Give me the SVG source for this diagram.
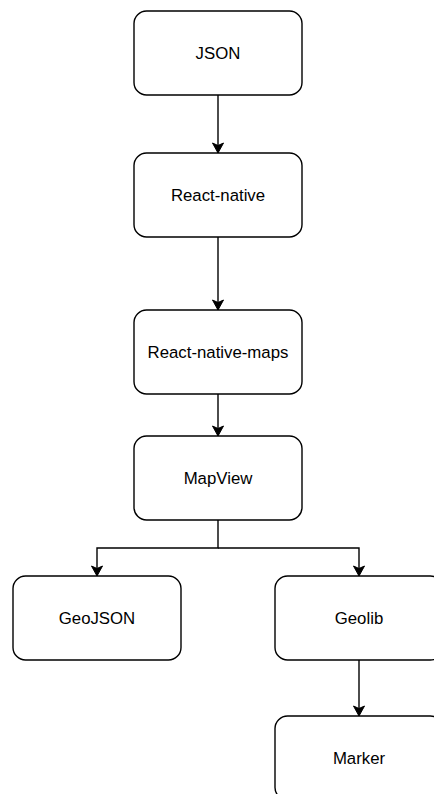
<svg xmlns="http://www.w3.org/2000/svg" width="434" height="794" viewBox="0 0 434 794">
<style>
.box{fill:#fff;stroke:#000;stroke-width:1.4}
.lbl{font-family:"Liberation Sans",Arial,sans-serif;font-size:16.8px;fill:#000;text-anchor:middle}
.conn{fill:none;stroke:#000;stroke-width:1.4}
</style>
<defs>
<marker id="arr" markerUnits="userSpaceOnUse" markerWidth="11" markerHeight="12" refX="10" refY="5.5" orient="auto" overflow="visible">
<path d="M0,0 L10,5.5 L0,11 L2.5,5.5 Z" fill="#000" stroke="#000" stroke-width="1"/>
</marker>
</defs>
<rect width="434" height="794" fill="#fff"/>
<g id="connectors">
<path class="conn" d="M218,95 V153" marker-end="url(#arr)"/>
<path class="conn" d="M218,237 V310" marker-end="url(#arr)"/>
<path class="conn" d="M218,394 V436" marker-end="url(#arr)"/>
<path class="conn" d="M218,520 V548 H97 V576" marker-end="url(#arr)"/>
<path class="conn" d="M218,548 H359 V576" marker-end="url(#arr)"/>
<path class="conn" d="M359,660 V716" marker-end="url(#arr)"/>
</g>
<g id="json"><rect class="box" x="134" y="11" width="168" height="84" rx="12.6"/><text class="lbl" x="218" y="59">JSON</text></g>
<g id="react-native"><rect class="box" x="134" y="153" width="168" height="84" rx="12.6"/><text class="lbl" x="218" y="201">React-native</text></g>
<g id="react-native-maps"><rect class="box" x="134" y="310" width="168" height="84" rx="12.6"/><text class="lbl" x="218" y="358">React-native-maps</text></g>
<g id="mapview"><rect class="box" x="134" y="436" width="168" height="84" rx="12.6"/><text class="lbl" x="218" y="484">MapView</text></g>
<g id="geojson"><rect class="box" x="13" y="576" width="168" height="84" rx="12.6"/><text class="lbl" x="97" y="624">GeoJSON</text></g>
<g id="geolib"><rect class="box" x="275" y="576" width="168" height="84" rx="12.6"/><text class="lbl" x="359" y="624">Geolib</text></g>
<g id="marker"><rect class="box" x="275" y="716" width="168" height="84" rx="12.6"/><text class="lbl" x="359" y="764">Marker</text></g>
</svg>
